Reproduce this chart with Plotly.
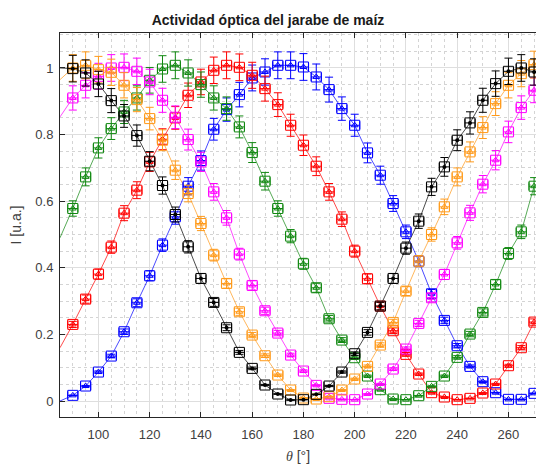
import plotly.graph_objects as go

theta = list(range(90, 275, 5))

black = [0.998, 0.985, 0.952, 0.902, 0.856, 0.797, 0.720, 0.647, 0.560, 0.463,
         0.368, 0.296, 0.220, 0.146, 0.098, 0.048, 0.021, 0.003, 0.004, 0.020,
         0.045, 0.087, 0.142, 0.206, 0.285, 0.368, 0.459, 0.540, 0.643, 0.703,
         0.783, 0.835, 0.903, 0.953, 0.990, 1.000, 0.988]
orange = [1.000, 1.008, 0.995, 0.987, 0.948, 0.905, 0.848, 0.783, 0.693, 0.623,
          0.533, 0.438, 0.353, 0.268, 0.198, 0.136, 0.078, 0.033, 0.009, 0.006,
          0.013, 0.033, 0.066, 0.104, 0.168, 0.236, 0.330, 0.420, 0.500, 0.583,
          0.673, 0.748, 0.821, 0.893, 0.948, 0.983, 1.010]
magenta = [0.910, 0.948, 0.975, 1.000, 1.002, 0.990, 0.958, 0.903, 0.852, 0.785,
           0.718, 0.628, 0.550, 0.441, 0.347, 0.271, 0.204, 0.138, 0.090, 0.047,
           0.008, 0.005, 0.004, 0.021, 0.051, 0.096, 0.156, 0.233, 0.310, 0.380,
           0.475, 0.565, 0.651, 0.723, 0.808, 0.881, 0.933]
green = [0.578, 0.673, 0.760, 0.818, 0.868, 0.910, 0.963, 0.997, 1.008, 0.985,
         0.950, 0.910, 0.878, 0.823, 0.746, 0.660, 0.578, 0.495, 0.412, 0.340,
         0.247, 0.183, 0.130, 0.075, 0.034, 0.006, 0.004, 0.016, 0.044, 0.075,
         0.131, 0.201, 0.266, 0.350, 0.443, 0.508, 0.645]
red = [0.230, 0.306, 0.381, 0.462, 0.564, 0.633, 0.718, 0.786, 0.850, 0.918,
       0.958, 0.993, 1.008, 1.002, 0.978, 0.938, 0.890, 0.828, 0.768, 0.705,
       0.628, 0.546, 0.450, 0.367, 0.285, 0.211, 0.140, 0.081, 0.025, 0.012,
       0.004, 0.008, 0.024, 0.051, 0.106, 0.160, 0.237]
blue = [0.017, 0.045, 0.087, 0.135, 0.208, 0.295, 0.376, 0.468, 0.553, 0.645,
        0.722, 0.816, 0.875, 0.920, 0.970, 0.988, 1.008, 1.008, 1.003, 0.973,
        0.935, 0.878, 0.828, 0.745, 0.678, 0.593, 0.508, 0.420, 0.322, 0.242,
        0.166, 0.104, 0.058, 0.025, 0.005, 0.005, 0.023]

# value of each fitted line at the left edge of the axes (theta = 85)
edge_theta = 85
edge_values = {"black": 1.0, "orange": 0.965, "magenta": 0.853,
               "green": 0.49, "red": 0.16, "blue": 0.0}

series = [
    ("blue", blue, "#0000ff"),
    ("red", red, "#ff0000"),
    ("green", green, "#118811"),
    ("magenta", magenta, "#ff00ff"),
    ("orange", orange, "#ff9a1a"),
    ("black", black, "#000000"),
]

fig = go.Figure()

for name, vals, col in series:
    fig.add_trace(go.Scatter(
        x=[edge_theta] + theta, y=[edge_values[name]] + vals,
        mode="lines", line=dict(color=col, width=1), opacity=0.7,
        hoverinfo="skip", showlegend=False))

for name, vals, col in series:
    fig.add_trace(go.Scatter(
        x=theta, y=vals, mode="markers",
        marker=dict(symbol="square-open", size=10, color=col,
                    line=dict(color=col, width=1)),
        error_y=dict(type="percent", value=4, color=col, thickness=1, width=4),
        error_x=dict(type="constant", value=2, color=col, thickness=1, width=4),
        showlegend=False, name=name))
    if name == "black":
        fig.add_trace(go.Scatter(
            x=theta, y=vals, mode="markers",
            marker=dict(symbol="circle", size=4, color=col),
            showlegend=False, hoverinfo="skip"))
    else:
        fig.add_trace(go.Scatter(
            x=theta, y=vals, mode="markers",
            marker=dict(symbol="triangle-up-open", size=6, color=col,
                        line=dict(color=col, width=1)),
            showlegend=False, hoverinfo="skip"))

axis_col = "#262626"
fig.update_layout(
    width=536, height=464,
    margin=dict(l=60, r=0, t=33, b=47),
    paper_bgcolor="white", plot_bgcolor="white",
    font=dict(family="Liberation Sans, Arial, sans-serif", size=13, color="#404040"),
    title=dict(text="<b>Actividad óptica del jarabe de maíz</b>",
               x=0.5, xanchor="center", y=0.957, yanchor="middle",
               font=dict(size=14, color="#1a1a1a")),
    xaxis=dict(
        range=[85, 270.75], tickvals=[100, 120, 140, 160, 180, 200, 220, 240, 260],
        showline=True, linecolor=axis_col, linewidth=1, mirror="ticks",
        ticks="inside", ticklen=5, tickcolor=axis_col, ticklabelstandoff=5,
        showgrid=True, gridcolor="#dedede", gridwidth=1, zeroline=False,
        minor=dict(dtick=5, showgrid=True, gridcolor="#d4d4d4", griddash="dot", gridwidth=1),
        title=dict(text="<i style='font-family:Liberation Serif'>θ</i> [°]",
                   standoff=10, font=dict(size=14, color="#404040")),
    ),
    yaxis=dict(
        range=[-0.048, 1.105], tickvals=[0, 0.2, 0.4, 0.6, 0.8, 1],
        ticktext=["0", "0.2", "0.4", "0.6", "0.8", "1"],
        showline=True, linecolor=axis_col, linewidth=1,
        ticks="inside", ticklen=5, tickcolor=axis_col, ticklabelstandoff=3,
        showgrid=True, gridcolor="#dedede", gridwidth=1, zeroline=False,
        minor=dict(dtick=0.05, showgrid=True, gridcolor="#d4d4d4", griddash="dot", gridwidth=1),
        title=dict(text="I [u.a.]", standoff=10, font=dict(size=14, color="#404040")),
    ),
)

fig.write_html(
    "out.html",
    config={"displayModeBar": False},
    post_script="document.body.style.margin='0';document.body.style.overflow='hidden';",
)
